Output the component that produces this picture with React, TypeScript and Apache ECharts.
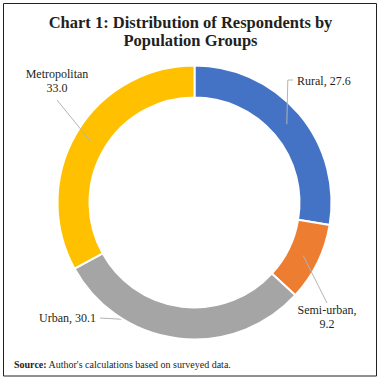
import React, { useEffect, useRef } from "react";
import * as echarts from "echarts";

const categories = ["Rural", "Semi-urban", "Urban", "Metropolitan"];
const values = [27.6, 9.2, 30.1, 33.0];
const colors = ["#4472C4", "#ED7D31", "#A5A5A5", "#FFC000"];
const labelTexts = ["Rural, 27.6", "Semi-urban,\n9.2", "Urban, 30.1", "Metropolitan\n33.0"];

const FONT = "'Liberation Serif', 'DejaVu Serif', serif";

const CX = 194.5;
const CY = 202.5;
const R_IN = 105;
const R_OUT = 137;

export default function App() {
  const ref = useRef<HTMLDivElement>(null);
  useEffect(() => {
    if (!ref.current) return;
    const chart = echarts.init(ref.current, null, { renderer: "svg" });
    const total = values.reduce((a, b) => a + b, 0);
    // anchor at the middle of the ring, at each slice's mid-angle
    const anchors = values.map((v, i) => {
      const before = values.slice(0, i).reduce((a, b) => a + b, 0);
      const ang = ((before + v / 2) / total) * Math.PI * 2; // clockwise from top
      const r = (R_IN + R_OUT) / 2;
      return [CX + r * Math.sin(ang), CY - r * Math.cos(ang)];
    });
    const labelPos: Record<number, any> = {
      0: { x: 297, y: 81, align: "left", verticalAlign: "middle" },
      1: { x: 327, y: 317, align: "center", verticalAlign: "middle" },
      2: { x: 96, y: 318, align: "right", verticalAlign: "middle" },
      3: { x: 57, y: 81, align: "center", verticalAlign: "middle" },
    };
    const linePts = (i: number) => {
      const a = anchors[i];
      if (i === 0) return [a, [a[0] + 1, 80], [293, 80]];
      if (i === 1) return [a, [327, 303]];
      if (i === 2) return [a, [100, 318]];
      return [a, [57, 100]];
    };
    const leaderLines = values.map((_, i) => ({
      type: "polyline",
      z: i === 2 ? 0 : 100,
      silent: true,
      shape: { points: linePts(i) },
      style: { stroke: "#b4b4b4", lineWidth: 1, fill: "none" },
    }));
    chart.setOption({
      animation: false,
      backgroundColor: "#ffffff",
      title: {
        text: "Chart 1: Distribution of Respondents by\nPopulation Groups",
        left: "center",
        top: 8,
        textStyle: {
          fontFamily: FONT,
          fontSize: 16.5,
          fontWeight: "bold",
          color: "#231f20",
          lineHeight: 18,
        },
      },
      graphic: [
        {
          type: "rect",
          shape: { x: 3.5, y: 3.5, width: 373, height: 372.5 },
          style: { fill: "none", stroke: "#222", lineWidth: 1 },
          silent: true,
        },
        ...leaderLines,
        {
          type: "text",
          x: 14,
          y: 364,
          style: {
            text: "{b|Source:} Author's calculations based on surveyed data.",
            fontFamily: FONT,
            fontSize: 10,
            fill: "#231f20",
            verticalAlign: "middle",
            rich: {
              b: { fontFamily: FONT, fontSize: 10, fontWeight: "bold", fill: "#231f20" },
            },
          },
        },
      ],
      series: [
        {
          type: "pie",
          center: [CX, CY],
          radius: [R_IN, R_OUT],
          startAngle: 90,
          clockwise: true,
          itemStyle: { borderColor: "#ffffff", borderWidth: 2 },
          label: {
            show: true,
            position: "outside",
            overflow: "none",
            fontFamily: FONT,
            fontSize: 12,
            color: "#231f20",
            lineHeight: 14,
            formatter: (p: any) => labelTexts[p.dataIndex],
          },
          labelLine: { show: false },
          labelLayout: (params: any) => labelPos[params.dataIndex],
          data: categories.map((c, i) => ({
            name: c,
            value: values[i],
            itemStyle: { color: colors[i] },
          })),
        },
      ],
    });
    return () => chart.dispose();
  }, []);
  return (
    <div
      ref={ref}
      style={{ position: "fixed", left: 0, top: 0, width: 381, height: 381 }}
    />
  );
}
